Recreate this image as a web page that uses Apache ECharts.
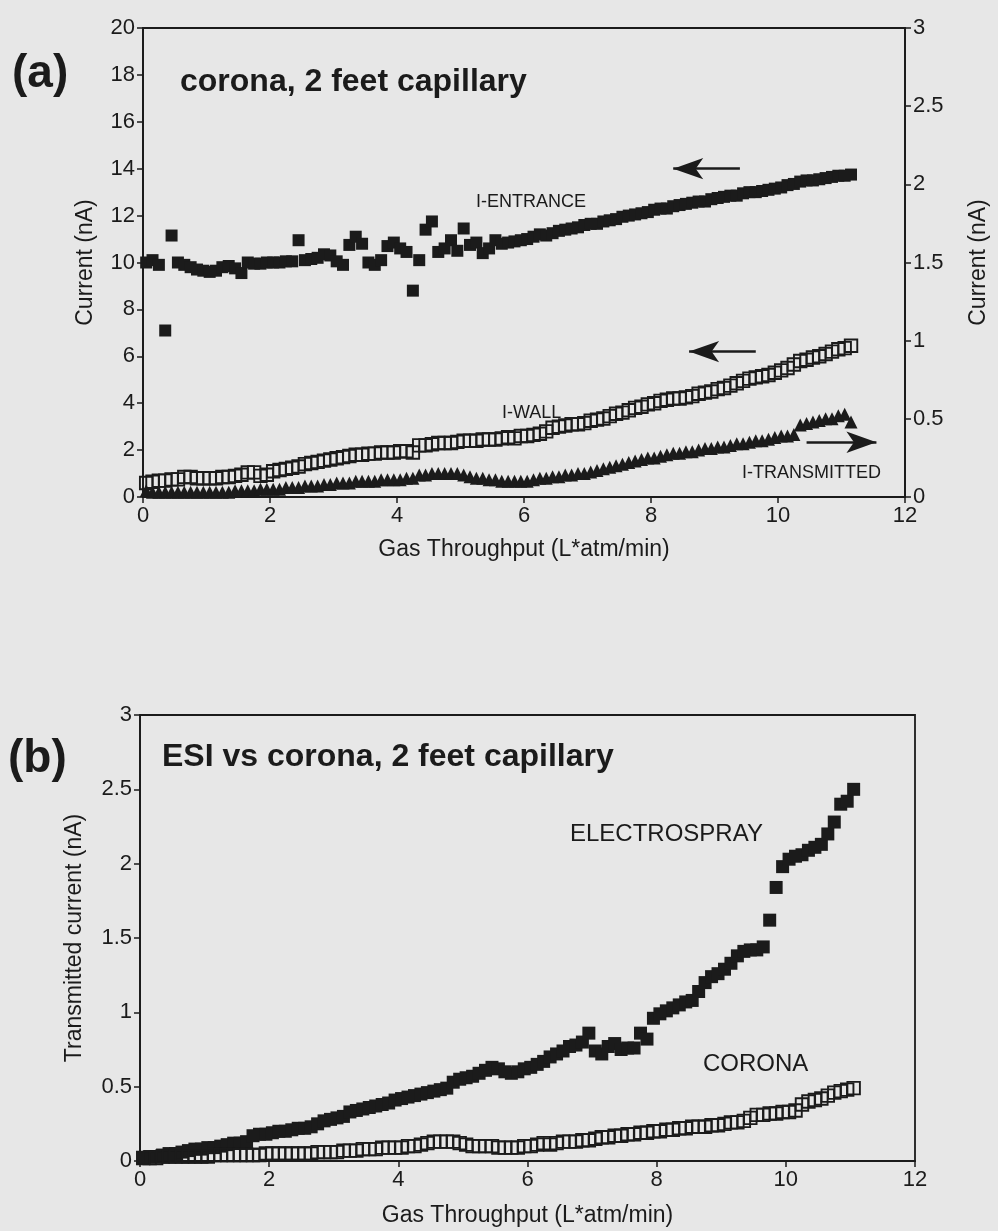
<!DOCTYPE html>
<html>
<head>
<meta charset="utf-8">
<script src="https://cdn.jsdelivr.net/npm/echarts@6/dist/echarts.min.js"></script>
<style>
  html, body { margin: 0; padding: 0; background: #e7e7e7; }
  #chart { width: 998px; height: 1231px; }
</style>
</head>
<body>
<div id="chart"></div>
<script>
// ---- Panel (a): corona, 2 feet capillary ----
const throughputA = [
  0.05, 0.15, 0.25, 0.35, 0.45, 0.55, 0.65, 0.75, 0.85, 0.95,
  1.05, 1.15, 1.25, 1.35, 1.45, 1.55, 1.65, 1.75, 1.85, 1.95,
  2.05, 2.15, 2.25, 2.35, 2.45, 2.55, 2.65, 2.75, 2.85, 2.95,
  3.05, 3.15, 3.25, 3.35, 3.45, 3.55, 3.65, 3.75, 3.85, 3.95,
  4.05, 4.15, 4.25, 4.35, 4.45, 4.55, 4.65, 4.75, 4.85, 4.95,
  5.05, 5.15, 5.25, 5.35, 5.45, 5.55, 5.65, 5.75, 5.85, 5.95,
  6.05, 6.15, 6.25, 6.35, 6.45, 6.55, 6.65, 6.75, 6.85, 6.95,
  7.05, 7.15, 7.25, 7.35, 7.45, 7.55, 7.65, 7.75, 7.85, 7.95,
  8.05, 8.15, 8.25, 8.35, 8.45, 8.55, 8.65, 8.75, 8.85, 8.95,
  9.05, 9.15, 9.25, 9.35, 9.45, 9.55, 9.65, 9.75, 9.85, 9.95,
  10.05, 10.15, 10.25, 10.35, 10.45, 10.55, 10.65, 10.75, 10.85, 10.95,
  11.05, 11.15
];
// I-ENTRANCE current (nA, left axis)
const iEntrance = [
  10.0, 10.1, 9.9, 7.1, 11.15, 10.0, 9.9, 9.8, 9.7, 9.65,
  9.6, 9.65, 9.8, 9.85, 9.75, 9.55, 10.0, 9.95, 9.95, 10.0,
  10.0, 10.0, 10.05, 10.05, 10.95, 10.1, 10.15, 10.2, 10.35, 10.3,
  10.05, 9.9, 10.75, 11.1, 10.8, 10.0, 9.9, 10.1, 10.7, 10.85,
  10.6, 10.45, 8.8, 10.1, 11.4, 11.75, 10.45, 10.6, 10.95, 10.5,
  11.45, 10.75, 10.85, 10.4, 10.6, 10.95, 10.8, 10.85, 10.9, 10.95,
  11.0, 11.1, 11.2, 11.15, 11.25, 11.35, 11.4, 11.45, 11.5, 11.6,
  11.65, 11.65, 11.75, 11.8, 11.85, 11.95, 12.0, 12.05, 12.1, 12.15,
  12.25, 12.3, 12.3, 12.4, 12.45, 12.5, 12.55, 12.6, 12.6, 12.7,
  12.75, 12.8, 12.85, 12.85, 12.95, 13.0, 13.0, 13.05, 13.1, 13.15,
  13.2, 13.3, 13.35, 13.45, 13.5, 13.5, 13.55, 13.6, 13.65, 13.7,
  13.7, 13.75
];
// I-WALL current (nA, left axis)
const iWall = [
  0.6, 0.65, 0.7, 0.7, 0.75, 0.75, 0.85, 0.85, 0.8, 0.8,
  0.8, 0.8, 0.85, 0.85, 0.9, 0.95, 1.05, 1.05, 0.9, 0.95,
  1.1, 1.15, 1.2, 1.25, 1.3, 1.4, 1.45, 1.5, 1.55, 1.6,
  1.65, 1.7, 1.75, 1.8, 1.8, 1.85, 1.85, 1.9, 1.9, 1.9,
  1.95, 1.95, 1.9, 2.2, 2.2, 2.25, 2.3, 2.3, 2.3, 2.35,
  2.4, 2.4, 2.4, 2.45, 2.45, 2.45, 2.5, 2.55, 2.5, 2.6,
  2.6, 2.65, 2.7, 2.8, 2.95, 3.0, 3.05, 3.1, 3.1, 3.15,
  3.25, 3.3, 3.35, 3.45, 3.55, 3.6, 3.7, 3.8, 3.85, 3.95,
  4.0, 4.1, 4.15, 4.2, 4.2, 4.25, 4.3, 4.4, 4.45, 4.5,
  4.6, 4.65, 4.75, 4.85, 4.95, 5.05, 5.1, 5.15, 5.2, 5.3,
  5.4, 5.5, 5.65, 5.8, 5.85, 5.95, 6.0, 6.1, 6.2, 6.3,
  6.35, 6.45
];
// I-TRANSMITTED current (nA, right axis)
const iTransmitted = [
  0.04, 0.03, 0.03, 0.03, 0.03, 0.03, 0.03, 0.03, 0.03, 0.03,
  0.03, 0.03, 0.03, 0.03, 0.04, 0.04, 0.04, 0.04, 0.05, 0.05,
  0.05, 0.05, 0.06, 0.06, 0.06, 0.07, 0.07, 0.07, 0.08, 0.08,
  0.09, 0.09, 0.09, 0.10, 0.10, 0.10, 0.10, 0.11, 0.11, 0.11,
  0.11, 0.12, 0.12, 0.14, 0.14, 0.15, 0.15, 0.15, 0.15, 0.15,
  0.14, 0.13, 0.12, 0.12, 0.11, 0.11, 0.10, 0.10, 0.10, 0.10,
  0.10, 0.11, 0.12, 0.12, 0.13, 0.13, 0.14, 0.14, 0.15, 0.15,
  0.16, 0.17, 0.18, 0.19, 0.20, 0.21, 0.22, 0.23, 0.24, 0.25,
  0.25, 0.26, 0.27, 0.28, 0.28, 0.29, 0.29, 0.30, 0.31, 0.31,
  0.32, 0.32, 0.33, 0.34, 0.34, 0.35, 0.36, 0.36, 0.37, 0.38,
  0.39, 0.39, 0.40, 0.46, 0.47, 0.48, 0.49, 0.50, 0.50, 0.52,
  0.53, 0.48
];

// ---- Panel (b): ESI vs corona, 2 feet capillary ----
const throughputB = [
  0.05, 0.15, 0.25, 0.35, 0.45, 0.55, 0.65, 0.75, 0.85, 0.95,
  1.05, 1.15, 1.25, 1.35, 1.45, 1.55, 1.65, 1.75, 1.85, 1.95,
  2.05, 2.15, 2.25, 2.35, 2.45, 2.55, 2.65, 2.75, 2.85, 2.95,
  3.05, 3.15, 3.25, 3.35, 3.45, 3.55, 3.65, 3.75, 3.85, 3.95,
  4.05, 4.15, 4.25, 4.35, 4.45, 4.55, 4.65, 4.75, 4.85, 4.95,
  5.05, 5.15, 5.25, 5.35, 5.45, 5.55, 5.65, 5.75, 5.85, 5.95,
  6.05, 6.15, 6.25, 6.35, 6.45, 6.55, 6.65, 6.75, 6.85, 6.95,
  7.05, 7.15, 7.25, 7.35, 7.45, 7.55, 7.65, 7.75, 7.85, 7.95,
  8.05, 8.15, 8.25, 8.35, 8.45, 8.55, 8.65, 8.75, 8.85, 8.95,
  9.05, 9.15, 9.25, 9.35, 9.45, 9.55, 9.65, 9.75, 9.85, 9.95,
  10.05, 10.15, 10.25, 10.35, 10.45, 10.55, 10.65, 10.75, 10.85, 10.95,
  11.05
];
// Transmitted current with electrospray source (nA)
const electrospray = [
  0.02, 0.03, 0.03, 0.04, 0.05, 0.05, 0.06, 0.07, 0.08, 0.08,
  0.09, 0.09, 0.10, 0.11, 0.12, 0.12, 0.13, 0.17, 0.18, 0.18,
  0.19, 0.20, 0.20, 0.21, 0.22, 0.22, 0.23, 0.25, 0.27, 0.28,
  0.29, 0.30, 0.33, 0.34, 0.35, 0.36, 0.37, 0.38, 0.39, 0.41,
  0.42, 0.43, 0.44, 0.45, 0.46, 0.47, 0.48, 0.49, 0.53, 0.55,
  0.56, 0.57, 0.59, 0.61, 0.63, 0.62, 0.60, 0.59, 0.60, 0.62,
  0.63, 0.65, 0.67, 0.70, 0.72, 0.74, 0.77, 0.78, 0.80, 0.86,
  0.74, 0.72, 0.77, 0.79, 0.75, 0.76, 0.76, 0.86, 0.82, 0.96,
  0.99, 1.01, 1.03, 1.05, 1.07, 1.08, 1.14, 1.20, 1.24, 1.26,
  1.29, 1.33, 1.38, 1.41, 1.42, 1.42, 1.44, 1.62, 1.84, 1.98,
  2.03, 2.05, 2.06, 2.09, 2.11, 2.13, 2.20, 2.28, 2.40, 2.42,
  2.50
];
// Transmitted current with corona source (nA)
const corona = [
  0.02, 0.02, 0.02, 0.03, 0.03, 0.03, 0.03, 0.03, 0.03, 0.03,
  0.03, 0.04, 0.04, 0.04, 0.04, 0.04, 0.04, 0.04, 0.04, 0.05,
  0.05, 0.05, 0.05, 0.05, 0.05, 0.05, 0.05, 0.06, 0.06, 0.06,
  0.06, 0.07, 0.07, 0.07, 0.08, 0.08, 0.08, 0.09, 0.09, 0.09,
  0.09, 0.10, 0.10, 0.11, 0.12, 0.13, 0.13, 0.13, 0.13, 0.12,
  0.11, 0.10, 0.10, 0.10, 0.10, 0.09, 0.09, 0.09, 0.09, 0.10,
  0.10, 0.11, 0.12, 0.11, 0.12, 0.13, 0.13, 0.13, 0.14, 0.14,
  0.15, 0.16, 0.16, 0.17, 0.17, 0.18, 0.18, 0.19, 0.19, 0.20,
  0.20, 0.21, 0.21, 0.22, 0.22, 0.23, 0.23, 0.23, 0.24, 0.24,
  0.25, 0.26, 0.26, 0.27, 0.29, 0.31, 0.31, 0.32, 0.32, 0.33,
  0.33, 0.34, 0.38, 0.40, 0.41, 0.42, 0.44, 0.46, 0.47, 0.48,
  0.49
];

const xTicks = [0, 2, 4, 6, 8, 10, 12];

const INK = '#1b1b1b';
const FONT = '"Liberation Sans", Arial, Helvetica, sans-serif';

function pairs(xs, ys) {
  return ys.map((y, i) => [xs[i], y]);
}

function xAxisFor(gridIndex, gap) {
  return {
    type: 'value', gridIndex: gridIndex,
    min: xTicks[0], max: xTicks[xTicks.length - 1], interval: 2,
    axisLine: { show: true, onZero: false, lineStyle: { color: INK, width: 1.8 } },
    axisTick: { show: true, length: 6, lineStyle: { color: INK, width: 1.5 } },
    axisLabel: { color: INK, fontSize: 22, fontFamily: FONT, margin: 8 },
    splitLine: { show: false },
    name: 'Gas Throughput (L*atm/min)', nameLocation: 'middle', nameGap: gap,
    nameTextStyle: { color: INK, fontSize: 23, fontFamily: FONT }
  };
}

function yAxisFor(gridIndex, pos, max, interval, name, gap) {
  return {
    type: 'value', gridIndex: gridIndex, position: pos,
    min: 0, max: max, interval: interval,
    axisLine: { show: true, onZero: false, lineStyle: { color: INK, width: 1.8 } },
    axisTick: { show: true, length: 6, lineStyle: { color: INK, width: 1.5 } },
    axisLabel: { color: INK, fontSize: 22, fontFamily: FONT, margin: 8 },
    splitLine: { show: false },
    name: name, nameLocation: 'middle', nameGap: gap, nameRotate: 90,
    nameTextStyle: { color: INK, fontSize: 23, fontFamily: FONT }
  };
}

function arrowLine(from, to) {
  return {
    silent: true,
    symbol: ['none', 'arrow'],
    symbolSize: [16, 30],
    lineStyle: { color: INK, width: 2.6, type: 'solid' },
    label: { show: false },
    emphasis: { disabled: true },
    data: [[{ coord: from }, { coord: to }]]
  };
}

const filledSquare = (size) => ({
  type: 'scatter', symbol: 'rect', symbolSize: size,
  itemStyle: { color: INK, opacity: 1 },
  emphasis: { disabled: true }
});
const openSquare = (size) => ({
  type: 'scatter', symbol: 'rect', symbolSize: size,
  itemStyle: { color: 'rgba(0,0,0,0)', borderColor: INK, borderWidth: 1.9, opacity: 1 },
  emphasis: { disabled: true }
});

function label(text, x, y, size, weight) {
  return {
    type: 'text', x: x, y: y, silent: true,
    style: {
      text: text, fill: INK,
      font: (weight || 'normal') + ' ' + size + 'px ' + FONT,
      textAlign: 'left', textVerticalAlign: 'middle',
      align: 'left', verticalAlign: 'middle'
    }
  };
}

const chart = echarts.init(document.getElementById('chart'), null, { renderer: 'canvas' });

chart.setOption({
  animation: false,
  backgroundColor: '#e7e7e7',
  grid: [
    { left: 143, right: 84, top: 28, height: 469, show: true, borderColor: INK, borderWidth: 1.8, backgroundColor: 'transparent' },
    { left: 140, right: 83, top: 715, height: 446, show: true, borderColor: INK, borderWidth: 1.8, backgroundColor: 'transparent' }
  ],
  xAxis: [xAxisFor(0, 41), xAxisFor(1, 43)],
  yAxis: [
    yAxisFor(0, 'left', 20, 2, 'Current (nA)', 46),
    yAxisFor(0, 'right', 3, 0.5, 'Current (nA)', 62),
    yAxisFor(1, 'left', 3, 0.5, 'Transmitted current (nA)', 54)
  ],
  series: [
    Object.assign(filledSquare(12), {
      name: 'I-ENTRANCE', xAxisIndex: 0, yAxisIndex: 0,
      data: pairs(throughputA, iEntrance),
      markLine: arrowLine([9.4, 14.0], [8.35, 14.0])
    }),
    Object.assign(openSquare(12.5), {
      name: 'I-WALL', xAxisIndex: 0, yAxisIndex: 0,
      data: pairs(throughputA, iWall),
      markLine: arrowLine([9.65, 6.2], [8.6, 6.2])
    }),
    {
      type: 'scatter', name: 'I-TRANSMITTED', xAxisIndex: 0, yAxisIndex: 1,
      symbol: 'triangle', symbolSize: 13,
      itemStyle: { color: INK, opacity: 1 },
      emphasis: { disabled: true },
      data: pairs(throughputA, iTransmitted),
      markLine: arrowLine([10.45, 0.35], [11.55, 0.35])
    },
    Object.assign(filledSquare(13), {
      name: 'ELECTROSPRAY', xAxisIndex: 1, yAxisIndex: 2,
      data: pairs(throughputB, electrospray)
    }),
    Object.assign(openSquare(12.5), {
      name: 'CORONA', xAxisIndex: 1, yAxisIndex: 2,
      data: pairs(throughputB, corona)
    })
  ],
  graphic: [
    label('(a)', 12, 74, 46, 'bold'),
    label('corona, 2 feet capillary', 180, 82, 32, 'bold'),
    label('I-ENTRANCE', 476, 202, 18),
    label('I-WALL', 502, 413, 18),
    label('I-TRANSMITTED', 742, 473, 18),
    label('(b)', 8, 759, 46, 'bold'),
    label('ESI vs corona, 2 feet capillary', 162, 757, 32, 'bold'),
    label('ELECTROSPRAY', 570, 834, 24),
    label('CORONA', 703, 1064, 24)
  ]
});
</script>
</body>
</html>
